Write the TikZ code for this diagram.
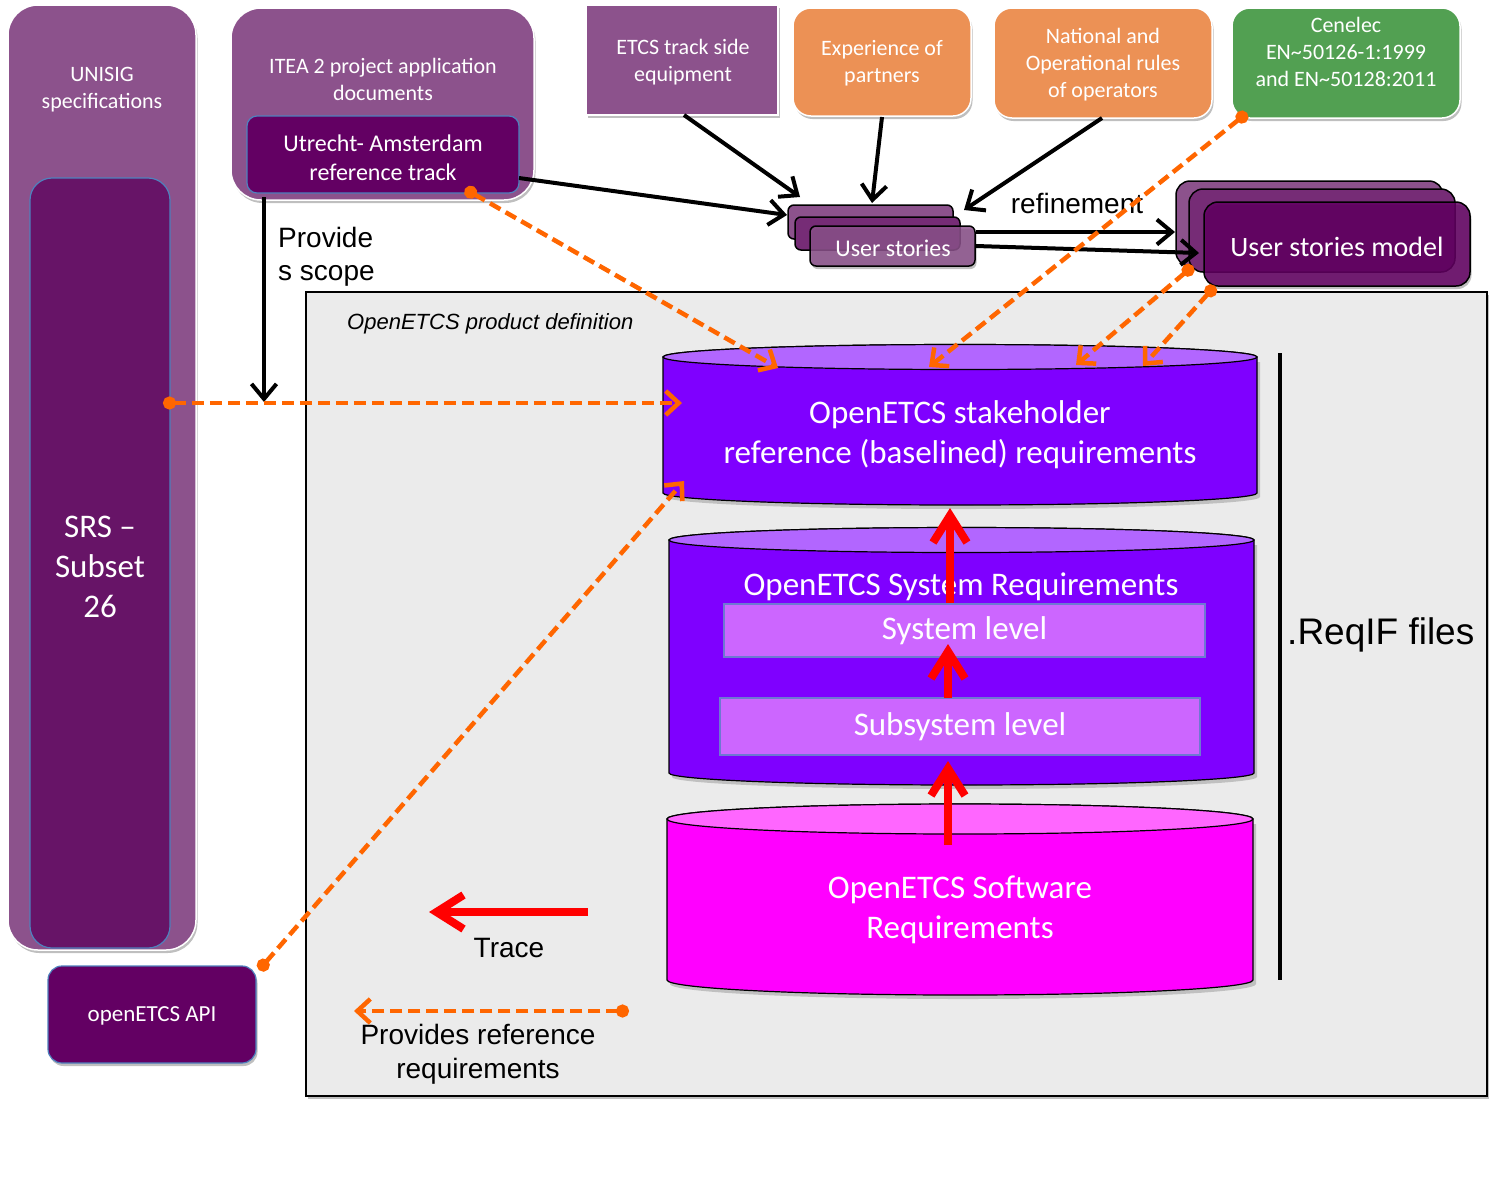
\documentclass[tikz,border=0pt]{standalone}
\usepackage{fontspec}
\setmainfont{Carlito}
\newfontfamily\arialf{Liberation Sans}
\usetikzlibrary{arrows.meta,shadows}
\definecolor{plight}{RGB}{140,82,140}
\definecolor{pmid}{RGB}{118,44,118}
\definecolor{psrs}{RGB}{103,20,103}
\definecolor{pdark}{RGB}{99,0,99}
\definecolor{bborder}{RGB}{79,129,189}
\definecolor{oranbox}{RGB}{236,145,85}
\definecolor{greenbox}{RGB}{82,160,82}
\definecolor{greyarea}{RGB}{235,235,235}
\definecolor{violbody}{RGB}{127,0,255}
\definecolor{violtop}{RGB}{178,102,255}
\definecolor{lvlfill}{RGB}{204,102,255}
\definecolor{lvlborder}{RGB}{110,120,210}
\definecolor{magbody}{RGB}{255,0,255}
\definecolor{magtop}{RGB}{255,102,255}
\definecolor{oline}{RGB}{255,102,0}
\begin{document}
\begin{tikzpicture}[x=1pt,y=-1pt,
  boxbase/.style={rectangle, inner sep=0pt, outer sep=0pt},
  softshadow/.style={drop shadow={shadow xshift=1.5pt,shadow yshift=-3pt,opacity=0.25,fill=black}},
  wtext/.style={text=white, align=center, inner sep=0pt},
  cal22/.style={font=\fontsize{22pt}{27pt}\selectfont},
  cal24/.style={font=\fontsize{24pt}{29pt}\selectfont},
  cal33/.style={font=\fontsize{33pt}{40pt}\selectfont},
  arl/.style={font=\arialf\fontsize{28pt}{33pt}\selectfont, inner sep=0pt},
  blackarrow/.style={draw=black, line width=4pt, -{Straight Barb[length=15pt,width=25pt]}},
  redarrow/.style={draw=red, line width=8pt, -{Straight Barb[length=27pt,width=34pt]}},
  orangearrow/.style={draw=oline, line width=4.5pt, dash pattern=on 12pt off 6pt, {Circle[length=13pt]}-{Straight Barb[length=13pt,width=24pt]}},
  cylshadow/.style={fill=black, opacity=0.18}
]
\useasboundingbox (0,0) rectangle (1495,1203);
\fill[white] (0,0) rectangle (1495,1203);

% ---------- grey product area ----------
\node[boxbase, fill=greyarea, draw=black, line width=1.5pt, minimum width=1181pt, minimum height=804pt, softshadow] (area) at (896.5,694) {};
\node[anchor=west, inner sep=0pt, font=\arialf\itshape\fontsize{22pt}{26pt}\selectfont] (areatitle) at (347,324) {OpenETCS product definition};

% ---------- left column ----------
\node[boxbase, fill=plight, draw=white, line width=1.5pt, rounded corners=30pt, minimum width=188pt, minimum height=945pt, softshadow] (unisig) at (102,477.5) {};
\node[wtext, cal22] (unisigtxt) at (102,89.5) {UNISIG\\specifications};
\node[boxbase, fill=psrs, draw=bborder, line width=1.2pt, rounded corners=22pt, minimum width=140pt, minimum height=770pt] (srs) at (100,563) {};
\node[wtext, cal33] (srstxt) at (100,567) {SRS --\\Subset\\26};

\node[boxbase, fill=pdark, draw=bborder, line width=1.2pt, rounded corners=14pt, minimum width=208pt, minimum height=97pt, softshadow] (api) at (152,1014.5) {};
\node[wtext, font=\fontsize{23pt}{28pt}\selectfont] (apitxt) at (152,1016) {openETCS API};

% ---------- ITEA ----------
\node[boxbase, fill=plight, draw=white, line width=1.5pt, rounded corners=30pt, minimum width=303pt, minimum height=192pt, softshadow] (itea) at (382.5,104) {};
\node[wtext, cal22] (iteatxt) at (383,79.5) {ITEA 2 project application\\documents};
\node[boxbase, fill=pdark, draw=bborder, line width=1.2pt, rounded corners=10pt, minimum width=272pt, minimum height=77pt] (utrecht) at (383,154.5) {};
\node[wtext, cal24] (utrechttxt) at (383,157.5) {Utrecht- Amsterdam\\reference track};

% ---------- top sources ----------
\node[boxbase, fill=plight, draw=white, line width=1.5pt, minimum width=192pt, minimum height=110pt, softshadow] (etcs) at (682,60) {};
\node[wtext, cal22] (etcstxt) at (683,62.5) {ETCS track side\\equipment};
\node[boxbase, fill=oranbox, draw=white, line width=1.5pt, rounded corners=18pt, minimum width=178pt, minimum height=108pt, softshadow] (exper) at (882,62) {};
\node[wtext, cal22] (expertxt) at (882,63.5) {Experience of\\partners};
\node[boxbase, fill=oranbox, draw=white, line width=1.5pt, rounded corners=18pt, minimum width=218pt, minimum height=110pt, softshadow] (natl) at (1103,63) {};
\node[wtext, cal22] (natltxt) at (1103,65) {National and\\Operational rules\\of operators};
\node[boxbase, fill=greenbox, draw=white, line width=1.5pt, rounded corners=18pt, minimum width=228pt, minimum height=110pt, softshadow] (cenelec) at (1346,63) {};
\node[wtext, cal22] (ceneltxt) at (1346,51.5) {Cenelec\\EN\textasciitilde 50126-1:1999\\and EN\textasciitilde 50128:2011};

% ---------- user stories ----------
\node[boxbase, fill=plight, draw=black, line width=1.5pt, rounded corners=6pt, minimum width=165pt, minimum height=34pt] (us1) at (870.5,222) {};
\node[boxbase, fill=pmid, draw=black, line width=1.5pt, rounded corners=6pt, minimum width=165pt, minimum height=33pt] (us2) at (877.5,233.5) {};
\node[boxbase, fill=plight, fill opacity=0.85, draw=black, draw opacity=1, line width=1.5pt, rounded corners=6pt, minimum width=165pt, minimum height=40pt, softshadow] (us3) at (892.5,246) {};
\node[wtext, cal24] (ustxt) at (893,248) {User stories};

\node[boxbase, fill=plight, draw=black, line width=1.5pt, rounded corners=14pt, minimum width=267pt, minimum height=85pt] (m1) at (1309.5,223.5) {};
\node[boxbase, fill=pmid, draw=black, line width=1.5pt, rounded corners=14pt, minimum width=266pt, minimum height=83pt] (m2) at (1322,230.5) {};
\node[boxbase, fill=pdark, fill opacity=0.85, draw=black, draw opacity=1, line width=1.5pt, rounded corners=14pt, minimum width=266pt, minimum height=84pt, softshadow] (m3) at (1337,244) {};
\node[wtext, font=\fontsize{28pt}{33pt}\selectfont] (mtxt) at (1337,247) {User stories model};
\node[arl] (refine) at (1077,203) {refinement};

% ---------- cylinders ----------
% stakeholder
\fill[cylshadow] (666,362) -- (666,497) arc[start angle=180,end angle=0,x radius=297,y radius=12] -- (1260,362) -- cycle;
\filldraw[fill=violbody, draw=black, line width=1.2pt] (663,357) -- (663,493) arc[start angle=180,end angle=0,x radius=297,y radius=12] -- (1257,357) arc[start angle=0,end angle=-180,x radius=297,y radius=12.5] -- cycle;
\filldraw[fill=violtop, draw=black, line width=1.2pt] (960,357) ellipse[x radius=297, y radius=12.5];
\node[wtext, cal33] (stake) at (960,435) {OpenETCS stakeholder\\reference (baselined) requirements};
% system
\fill[cylshadow] (672,545) -- (672,777) arc[start angle=180,end angle=0,x radius=292.5,y radius=12] -- (1257,545) -- cycle;
\filldraw[fill=violbody, draw=black, line width=1.2pt] (669,540) -- (669,773) arc[start angle=180,end angle=0,x radius=292.5,y radius=12] -- (1254,540) arc[start angle=0,end angle=-180,x radius=292.5,y radius=12.5] -- cycle;
\filldraw[fill=violtop, draw=black, line width=1.2pt] (961.5,540) ellipse[x radius=292.5, y radius=12.5];
\node[wtext, cal33] (sysreq) at (961,587) {OpenETCS System Requirements};
\node[boxbase, fill=lvlfill, draw=lvlborder, line width=1.2pt, minimum width=481pt, minimum height=53pt, wtext, cal33] (syslvl) at (964.5,630.5) {System level};
\node[boxbase, fill=lvlfill, draw=lvlborder, line width=1.2pt, minimum width=480pt, minimum height=57pt, wtext, cal33] (subsys) at (960,726.5) {Subsystem level};
% software
\fill[cylshadow] (670,824) -- (670,984) arc[start angle=180,end angle=0,x radius=293,y radius=15] -- (1256,824) -- cycle;
\filldraw[fill=magbody, draw=black, line width=1.2pt] (667,819) -- (667,980) arc[start angle=180,end angle=0,x radius=293,y radius=15] -- (1253,819) arc[start angle=0,end angle=-180,x radius=293,y radius=15] -- cycle;
\filldraw[fill=magtop, draw=black, line width=1.2pt] (960,819) ellipse[x radius=293, y radius=15];
\node[wtext, cal33] (soft) at (960,910) {OpenETCS Software\\Requirements};

% ---------- ReqIF ----------
\coordinate (rqa) at (1280,353);
\coordinate (rqb) at (1280,980);
\draw[line width=4pt] (rqa) -- (rqb);
\node[anchor=west, inner sep=0pt, font=\arialf\fontsize{37pt}{42pt}\selectfont] (reqif) at (1287,635) {.ReqIF files};

% ---------- labels ----------
\node[arl, anchor=west, align=left] (provscope) at (278,256.5) {Provide\\s scope};
\node[arl] (trace) at (509,948) {Trace};
\node[arl, align=center, font=\arialf\fontsize{28pt}{34pt}\selectfont] (provref) at (478,1054) {Provides reference\\requirements};

% ---------- black arrows ----------
\coordinate (ps1) at (264,197);
\coordinate (ps2) at (264,402);
\draw[blackarrow] (ps1) -- (ps2);
\coordinate (ua) at (519,178);  \coordinate (ub) at (787,215);
\coordinate (ea) at (684,115);  \coordinate (eb) at (800,197);
\coordinate (xa) at (882,117);  \coordinate (xb) at (872,203);
\coordinate (na) at (1102,118); \coordinate (nb) at (964,210);
\coordinate (ra1) at (976,232); \coordinate (rb1) at (1175,232);
\coordinate (ra2) at (976,246); \coordinate (rb2) at (1199,253);
\draw[blackarrow] (ua) -- (ub);
\draw[blackarrow] (ea) -- (eb);
\draw[blackarrow] (xa) -- (xb);
\draw[blackarrow] (na) -- (nb);
\draw[blackarrow] (ra1) -- (rb1);
\draw[blackarrow] (ra2) -- (rb2);

% ---------- red arrows ----------
\coordinate (r1a) at (950,603); \coordinate (r1b) at (950,508);
\coordinate (r2a) at (948,698); \coordinate (r2b) at (948,644);
\coordinate (r3a) at (948,845); \coordinate (r3b) at (948,761);
\coordinate (t1a) at (588,912); \coordinate (t1b) at (429,912);
\draw[redarrow] (r1a) -- (r1b);
\draw[redarrow] (r2a) -- (r2b);
\draw[redarrow] (r3a) -- (r3b);
\draw[redarrow] (t1a) -- (t1b);

% ---------- orange dashed arrows ----------
\coordinate (o1a) at (163,403);  \coordinate (o1b) at (682,403);
\coordinate (o2a) at (465,189);  \coordinate (o2b) at (778,368);
\coordinate (o3a) at (1247,113); \coordinate (o3b) at (929,367);
\coordinate (o4a) at (1193,266); \coordinate (o4b) at (1076,365);
\coordinate (o5a) at (1215,286); \coordinate (o5b) at (1143,366);
\coordinate (o6a) at (259,970);  \coordinate (o6b) at (684,481);
\coordinate (o7a) at (629,1011); \coordinate (o7b) at (354,1011);
\draw[orangearrow] (o1a) -- (o1b);
\draw[orangearrow] (o2a) -- (o2b);
\draw[orangearrow] (o3a) -- (o3b);
\draw[orangearrow] (o4a) -- (o4b);
\draw[orangearrow] (o5a) -- (o5b);
\draw[orangearrow] (o6a) -- (o6b);
\draw[orangearrow] (o7a) -- (o7b);
\end{tikzpicture}
\end{document}
